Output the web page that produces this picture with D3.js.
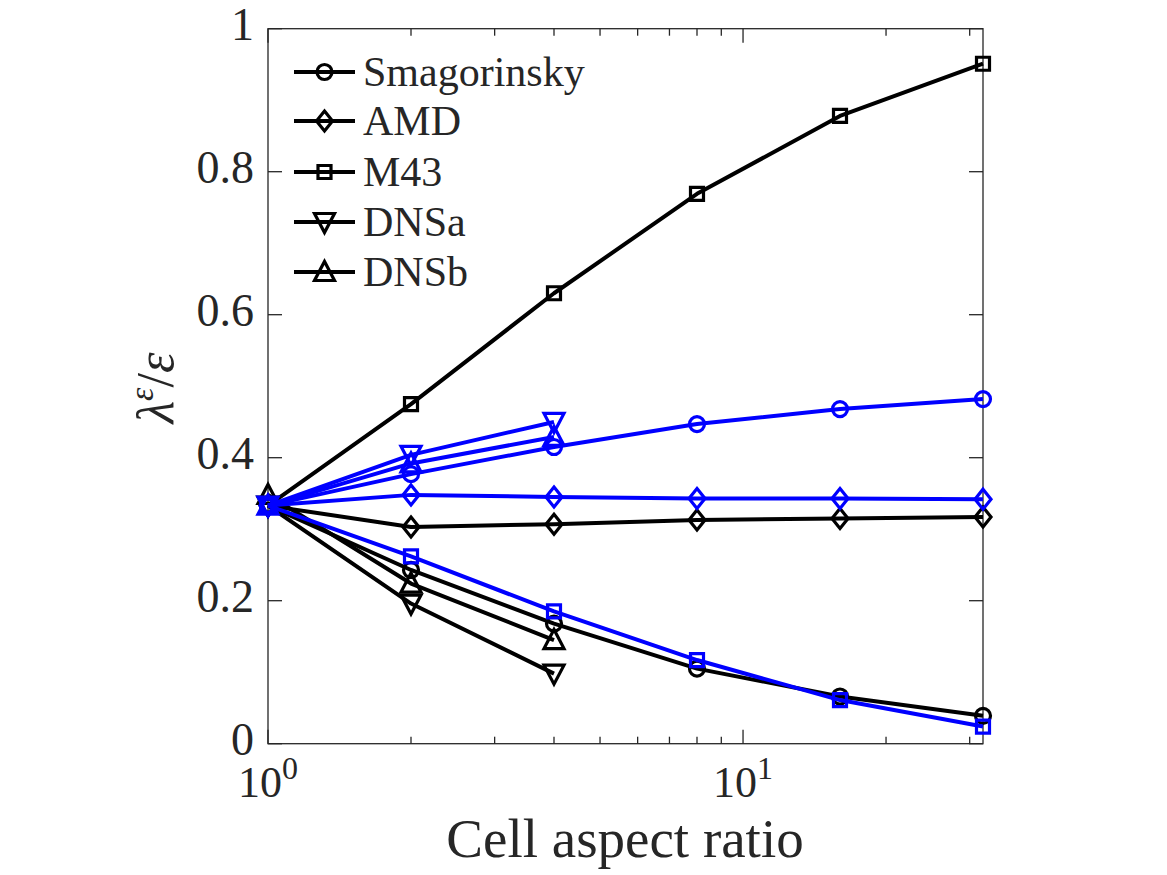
<!DOCTYPE html>
<html><head><meta charset="utf-8">
<script src="https://cdn.jsdelivr.net/npm/d3@7"></script>
<style>html,body{margin:0;padding:0;background:#fff;}</style>
</head><body>
<svg id="c" width="1167" height="875"></svg>
<script>
// ---- data ----
const aspect = [1, 2, 4, 8, 16, 32];
const aspectShort = [1, 2, 4];
const seriesNames = ["Smagorinsky", "AMD", "M43", "DNSa", "DNSb"];
const markerTypes = ["circle", "diamond", "square", "triDown", "triUp"];
// black set
const blackSmag = [0.333, 0.243, 0.168, 0.105, 0.066, 0.039];
const blackAMD  = [0.333, 0.303, 0.307, 0.313, 0.315, 0.317];
const blackM43  = [0.333, 0.475, 0.630, 0.769, 0.878, 0.951];
const blackDNSa = [0.333, 0.196, 0.098];
const blackDNSb = [0.348, 0.224, 0.145];
// blue set
const blueSmag = [0.333, 0.377, 0.415, 0.447, 0.468, 0.482];
const blueAMD  = [0.333, 0.348, 0.345, 0.343, 0.343, 0.342];
const blueM43  = [0.333, 0.262, 0.185, 0.117, 0.061, 0.024];
const blueDNSa = [0.333, 0.404, 0.450];
const blueDNSb = [0.333, 0.392, 0.429];
const yTicks = [0, 0.2, 0.4, 0.6, 0.8, 1];
const yTickLabels = ["0", "0.2", "0.4", "0.6", "0.8", "1"];
const xMajor = [1, 10];
const xMajorExp = ["0", "1"];
const xMinor = [2, 3, 4, 5, 6, 7, 8, 9, 20, 30];

// ---- layout ----
const L = 268, R = 983, T = 28.7, B = 743.7;
const x = d3.scaleLog().domain([1, 32]).range([L, R]);
const y = d3.scaleLinear().domain([0, 1]).range([B, T]);
const svg = d3.select("#c");
const axisCol = "#262626";
const font = "'Liberation Serif', 'Times New Roman', serif";

function markerPath(type, cx, cy) {
  switch (type) {
    case "circle": {
      const r = 7.5;
      return `M${cx - r},${cy}a${r},${r} 0 1,0 ${2*r},0a${r},${r} 0 1,0 ${-2*r},0Z`;
    }
    case "diamond": {
      const w = 8, h = 10;
      return `M${cx},${cy - h}L${cx + w},${cy}L${cx},${cy + h}L${cx - w},${cy}Z`;
    }
    case "square": {
      const s = 6.5;
      return `M${cx - s},${cy - s}H${cx + s}V${cy + s}H${cx - s}Z`;
    }
    case "triDown": {
      const w = 10, h = 8.5;
      return `M${cx - w},${cy - h}H${cx + w}L${cx},${cy + h + 2}Z`;
    }
    case "triUp": {
      const w = 10, h = 8.5;
      return `M${cx - w},${cy + h}H${cx + w}L${cx},${cy - h - 2}Z`;
    }
  }
}

// ---- axes box and ticks ----
const g = svg.append("g");
g.append("rect").attr("x", L).attr("y", T).attr("width", R - L).attr("height", B - T)
  .attr("fill", "none").attr("stroke", axisCol).attr("stroke-width", 1.3);

const major = 14, minor = 7;
yTicks.forEach((v, i) => {
  g.append("line").attr("x1", L).attr("x2", L + major).attr("y1", y(v)).attr("y2", y(v))
    .attr("stroke", axisCol).attr("stroke-width", 1.3);
  g.append("line").attr("x1", R).attr("x2", R - major).attr("y1", y(v)).attr("y2", y(v))
    .attr("stroke", axisCol).attr("stroke-width", 1.3);
  g.append("text").attr("x", L - 14).attr("y", y(v) - 4).attr("dy", "0.34em")
    .attr("text-anchor", "end").attr("font-family", font).attr("font-size", 46)
    .attr("fill", axisCol).text(yTickLabels[i]);
});
xMajor.forEach((v, i) => {
  g.append("line").attr("x1", x(v)).attr("x2", x(v)).attr("y1", B).attr("y2", B - major)
    .attr("stroke", axisCol).attr("stroke-width", 1.3);
  g.append("line").attr("x1", x(v)).attr("x2", x(v)).attr("y1", T).attr("y2", T + major)
    .attr("stroke", axisCol).attr("stroke-width", 1.3);
  const t = g.append("text").attr("x", x(v)).attr("y", 797)
    .attr("text-anchor", "middle").attr("font-family", font).attr("font-size", 44)
    .attr("fill", axisCol);
  t.append("tspan").text("10");
  t.append("tspan").attr("dy", -18).attr("font-size", 32).text(xMajorExp[i]);
});
xMinor.forEach(v => {
  g.append("line").attr("x1", x(v)).attr("x2", x(v)).attr("y1", B).attr("y2", B - minor)
    .attr("stroke", axisCol).attr("stroke-width", 1.3);
  g.append("line").attr("x1", x(v)).attr("x2", x(v)).attr("y1", T).attr("y2", T + minor)
    .attr("stroke", axisCol).attr("stroke-width", 1.3);
});

// axis labels
g.append("text").attr("x", (L + R) / 2 - 0.5).attr("y", 857)
  .attr("text-anchor", "middle").attr("font-family", font).attr("font-size", 55)
  .attr("fill", axisCol).text("Cell aspect ratio");
const yl = g.append("text").attr("transform", "translate(173,388) rotate(-90)")
  .attr("text-anchor", "middle").attr("font-family", font).attr("font-size", 52)
  .attr("fill", axisCol);
yl.append("tspan").attr("font-style", "italic").text("λ");
yl.append("tspan").attr("font-style", "italic").attr("font-size", 34).attr("dy", -20).text("ε");
yl.append("tspan").attr("dy", 20).text("/");
yl.append("tspan").attr("font-style", "italic").text("ε");

// ---- series ----
const series = [
  { c: "#000000", vals: [blackSmag, blackAMD, blackM43, blackDNSa, blackDNSb] },
  { c: "#0000ff", vals: [blueSmag, blueAMD, blueM43, blueDNSa, blueDNSb] }
];
const line = d3.line().x(d => x(d[0])).y(d => y(d[1]));
const plot = svg.append("g");
series.forEach(set => {
  set.vals.forEach((vals, k) => {
    const xs = vals.length === aspect.length ? aspect : aspectShort;
    const pts = vals.map((v, i) => [xs[i], v]);
    plot.append("path").attr("d", line(pts)).attr("fill", "none")
      .attr("stroke", set.c).attr("stroke-width", 4).attr("stroke-linejoin", "round");
    pts.forEach(p => {
      plot.append("path").attr("d", markerPath(markerTypes[k], x(p[0]), y(p[1])))
        .attr("fill", "none").attr("stroke", set.c).attr("stroke-width", 3.2);
    });
  });
});

// ---- legend ----
const leg = svg.append("g");
const legY = [72, 121, 172, 222, 272];
seriesNames.forEach((n, k) => {
  const yy = legY[k];
  leg.append("line").attr("x1", 294).attr("x2", 355).attr("y1", yy).attr("y2", yy)
    .attr("stroke", "#000").attr("stroke-width", 4);
  leg.append("path").attr("d", markerPath(markerTypes[k], 324.5, yy))
    .attr("fill", "none").attr("stroke", "#000").attr("stroke-width", 3.2);
  leg.append("text").attr("x", 363).attr("y", yy).attr("dy", "0.33em")
    .attr("font-family", font).attr("font-size", 42).attr("fill", axisCol).text(n);
});
</script>
</body></html>
